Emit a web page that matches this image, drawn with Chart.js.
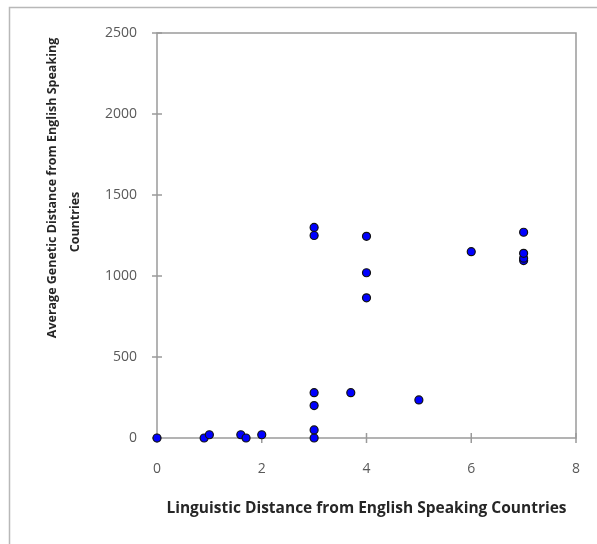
<!DOCTYPE html>
<html>
<head>
<meta charset="utf-8">
<script src="https://cdn.jsdelivr.net/npm/chart.js@4"></script>
<style>
  body { margin: 0; background: #fff; }
</style>
</head>
<body>
<canvas id="chart" width="597" height="544"></canvas>
<script>
// Data
const linguisticDist = [0, 0.9, 1.0, 1.6, 1.7, 2, 3, 3, 3, 3, 3, 3, 3.7, 4, 4, 4, 5, 6, 7, 7, 7, 7];
const geneticDist = [0, 0, 20, 20, 0, 20, 0, 50, 200, 280, 1250, 1300, 280, 865, 1020, 1245, 235, 1150, 1095, 1110, 1140, 1270];
const xTicks = [0, 2, 4, 6, 8];
const yTicks = [0, 500, 1000, 1500, 2000, 2500];
const xTitle = "Linguistic Distance from English Speaking Countries";
const yTitleLines = ["Average Genetic Distance from English Speaking", "Countries"];

const axisGray = "#9a9a9a";

// outer frame, plot box and crossing tick marks (Excel style)
const framePlugin = {
  id: "frame",
  beforeDraw(chart) {
    const ctx = chart.ctx;
    ctx.save();
    ctx.strokeStyle = "#b8b8b8";
    ctx.lineWidth = 1.5;
    ctx.strokeRect(9.5, 7.5, 640, 600);
    ctx.restore();
  },
  beforeDatasetsDraw(chart) {
    const { ctx, chartArea: a, scales } = chart;
    ctx.save();
    ctx.strokeStyle = axisGray;
    ctx.lineWidth = 1.5;
    ctx.strokeRect(a.left, a.top, a.right - a.left, a.bottom - a.top);
    ctx.beginPath();
    xTicks.forEach(v => {
      const px = scales.x.getPixelForValue(v);
      ctx.moveTo(px, a.bottom - 5);
      ctx.lineTo(px, a.bottom + 5);
    });
    yTicks.forEach(v => {
      const py = scales.y.getPixelForValue(v);
      ctx.moveTo(a.left - 5, py);
      ctx.lineTo(a.left + 5, py);
    });
    ctx.stroke();
    ctx.restore();
  },
  afterDraw(chart) {
    // y title, two lines, placed like the original
    const ctx = chart.ctx;
    const spots = [[52, 188], [75, 222]];
    yTitleLines.forEach((line, i) => {
      ctx.save();
      ctx.fillStyle = "#262626";
      ctx.font = "bold 12.5px 'Open Sans'";
      ctx.textAlign = "center";
      ctx.textBaseline = "middle";
      ctx.translate(spots[i][0], spots[i][1]);
      ctx.rotate(-Math.PI / 2);
      ctx.fillText(line, 0, 0);
      ctx.restore();
    });
  }
};

new Chart(document.getElementById("chart"), {
  type: "scatter",
  data: {
    datasets: [{
      data: linguisticDist.map((x, i) => ({ x: x, y: geneticDist[i] })),
      backgroundColor: "#0000ff",
      borderColor: "#111111",
      borderWidth: 1.2,
      pointRadius: 4,
      clip: false
    }]
  },
  options: {
    responsive: false,
    animation: false,
    devicePixelRatio: 1,
    layout: { padding: { left: 0, right: 21, top: 33, bottom: 26 } },
    plugins: {
      legend: { display: false },
      tooltip: { enabled: false }
    },
    scales: {
      x: {
        type: "linear",
        min: 0,
        max: 8,
        afterBuildTicks: s => { s.ticks = xTicks.map(v => ({ value: v })); },
        afterFit: s => {
          s.height = 80;
          s.paddingLeft = 0;
          s.paddingRight = 0;
        },
        grid: { display: false, drawTicks: false },
        border: { display: false },
        ticks: {
          color: "#595959",
          font: { family: "'Open Sans'", size: 14 },
          padding: 23,
          callback: v => String(v)
        },
        title: {
          display: true,
          text: xTitle,
          color: "#262626",
          font: { family: "'Open Sans'", size: 15.5, weight: "bold" },
          padding: 0
        }
      },
      y: {
        type: "linear",
        min: 0,
        max: 2500,
        afterBuildTicks: s => { s.ticks = yTicks.map(v => ({ value: v })); },
        afterFit: s => { s.width = 157; },
        grid: { display: false, drawTicks: false },
        border: { display: false },
        ticks: {
          color: "#595959",
          font: { family: "'Open Sans'", size: 14 },
          padding: 20,
          callback: v => String(v)
        }
      }
    }
  },
  plugins: [framePlugin]
});
</script>
</body>
</html>
